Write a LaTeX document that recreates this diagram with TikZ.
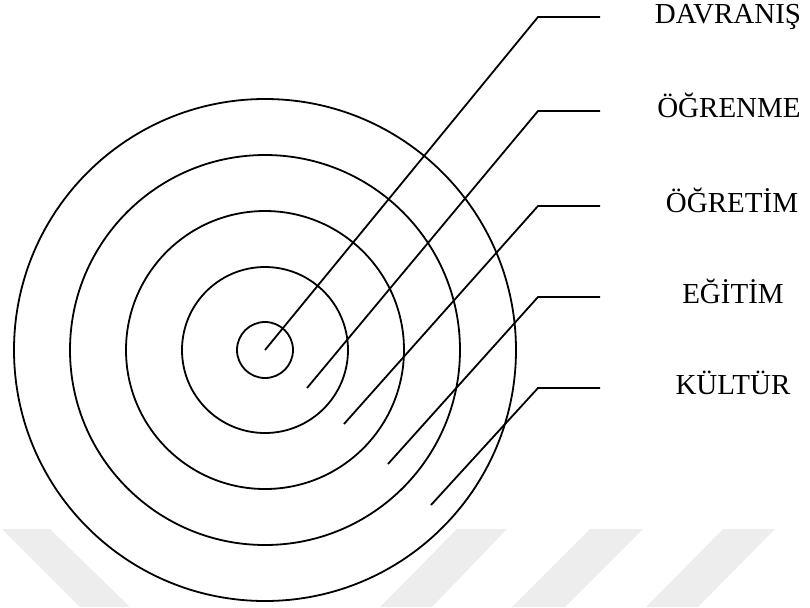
\documentclass[tikz,border=0pt]{standalone}
\usepackage{fontspec}
\setmainfont{Liberation Serif}
\usetikzlibrary{calc}
\tikzset{
  ring/.style={draw, circle, line width=0.9pt, inner sep=0pt},
  lead/.style={line width=0.9pt},
  layer/.style={font=\fontsize{14.5}{17}\selectfont, inner sep=0pt,
                text height=0.66em, text depth=0pt},
  wmark/.style={fill=black!7, draw=none}
}

\begin{document}
\begin{tikzpicture}[x=0.5pt, y=-0.5pt]
  \useasboundingbox (0,0) rectangle (810,607);
  % faint stripes at the bottom
  \fill[wmark] (2,529) -- (50,529) -- (130,607) -- (80,607) -- cycle;
  \fill[wmark] (457,529) -- (507,529) -- (432,607) -- (380,607) -- cycle;
  \fill[wmark] (590,529) -- (643,529) -- (565,607) -- (512,607) -- cycle;
  \fill[wmark] (723,529) -- (775,529) -- (698,607) -- (646,607) -- cycle;

  % rings (minimum size in pt = radius in px)
  \coordinate (o) at (265,350);
  \foreach \n/\r in {davranis/28, ogrenme/83, ogretim/139, egitim/195, kultur/251}
    \node[ring, minimum size=\r pt] (\n) at (o) {};

  % leaders and labels
  \foreach \n/\sx/\sy/\ky/\lx/\t in {
      davranis/265/350/17/728/DAVRANIŞ,
      ogrenme/307/388/111/729/ÖĞRENME,
      ogretim/344/424/206/732/ÖĞRETİM,
      egitim/388/464/297/733/EĞİTİM,
      kultur/431/505/388/733/KÜLTÜR}{
    \coordinate (\n-s) at (\sx,\sy);
    \coordinate (\n-k) at (538,\ky);
    \coordinate (\n-e) at (600,\ky);
    \node[layer] (\n-lbl) at (\lx,\ky) {\t};
    \draw[lead] (\n-s) -- (\n-k) -- (\n-e);
  }
\end{tikzpicture}
\end{document}
